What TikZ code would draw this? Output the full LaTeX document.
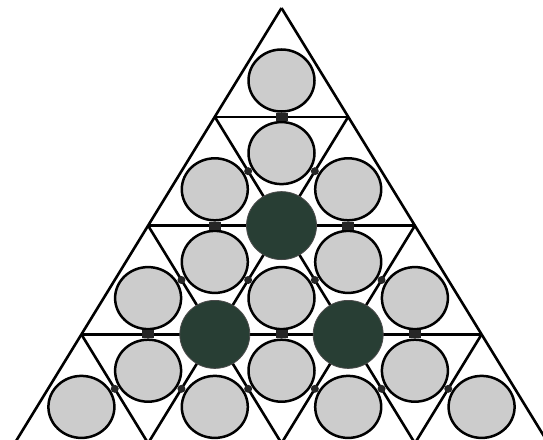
\documentclass[tikz,border=0pt]{standalone}
\usetikzlibrary{calc}
\definecolor{ballgray}{RGB}{204,204,204}
\definecolor{balldark}{RGB}{40,62,52}
\tikzset{
  gridline/.style={line width=2.6pt},
  lightball/.style={fill=ballgray, draw=black, line width=2.5pt},
  darkball/.style={fill=balldark, draw=black!70, line width=0.8pt},
  joint/.style={fill=black!85}
}

\begin{document}
\begin{tikzpicture}[x=1pt, y=-1pt]
  \useasboundingbox (0,0) rectangle (543,439);
  \clip (0,0) rectangle (543,439);

  % Define the grid vertices, row by row
  \foreach \i in {0,...,4}
    \foreach \j in {0,...,\i}
      \coordinate (v\i\j) at ({281.5+(2*\j-\i)*66.7}, {8+\i*108.8});

  % Grid lines: horizontal, then the two slanted families
  \foreach \a/\b in {v10/v11, v20/v22, v30/v33, v40/v44,
                     v00/v40, v11/v41, v22/v42, v33/v43,
                     v00/v44, v10/v43, v20/v42, v30/v41}
    \draw[gridline] (\a) -- (\b);

  % Balls in the upward triangles
  \foreach \i [evaluate=\i as \k using int(\i-1)] in {1,...,4}
    \foreach \j in {0,...,\k}
      \path[lightball] ($(v\k\j)+(0,72.5)$) ellipse[x radius=33pt, y radius=31pt];

  % Downward triangles: ball and joint on the top edge
  \foreach \i [evaluate=\i as \k using int(\i-1), evaluate=\i as \m using int(\i-2)] in {2,...,4} {
    \foreach \j [evaluate=\j as \l using int(\j+1)] in {0,...,\m} {
      \path[lightball] ($(v\k\j)!.5!(v\k\l)+(0,36.3)$) ellipse[x radius=33pt, y radius=31pt];
      \fill[joint] ($(v\k\j)!.5!(v\k\l)$) +(-6,-4) rectangle +(6,4);
    }
  }

  % Joints on the slanted inner edges
  \foreach \a/\b in {v11/v21, v21/v31, v31/v41, v22/v32, v32/v42, v33/v43,
                     v10/v21, v21/v32, v32/v43, v20/v31, v31/v42, v30/v41}
    \fill[joint] ($(\a)!.5!(\b)$) circle[radius=4pt];

  % Dark balls on the inner vertices
  \foreach \p in {v21,v31,v32}
    \path[darkball] (\p) ellipse[x radius=35pt, y radius=34pt];
\end{tikzpicture}
\end{document}
